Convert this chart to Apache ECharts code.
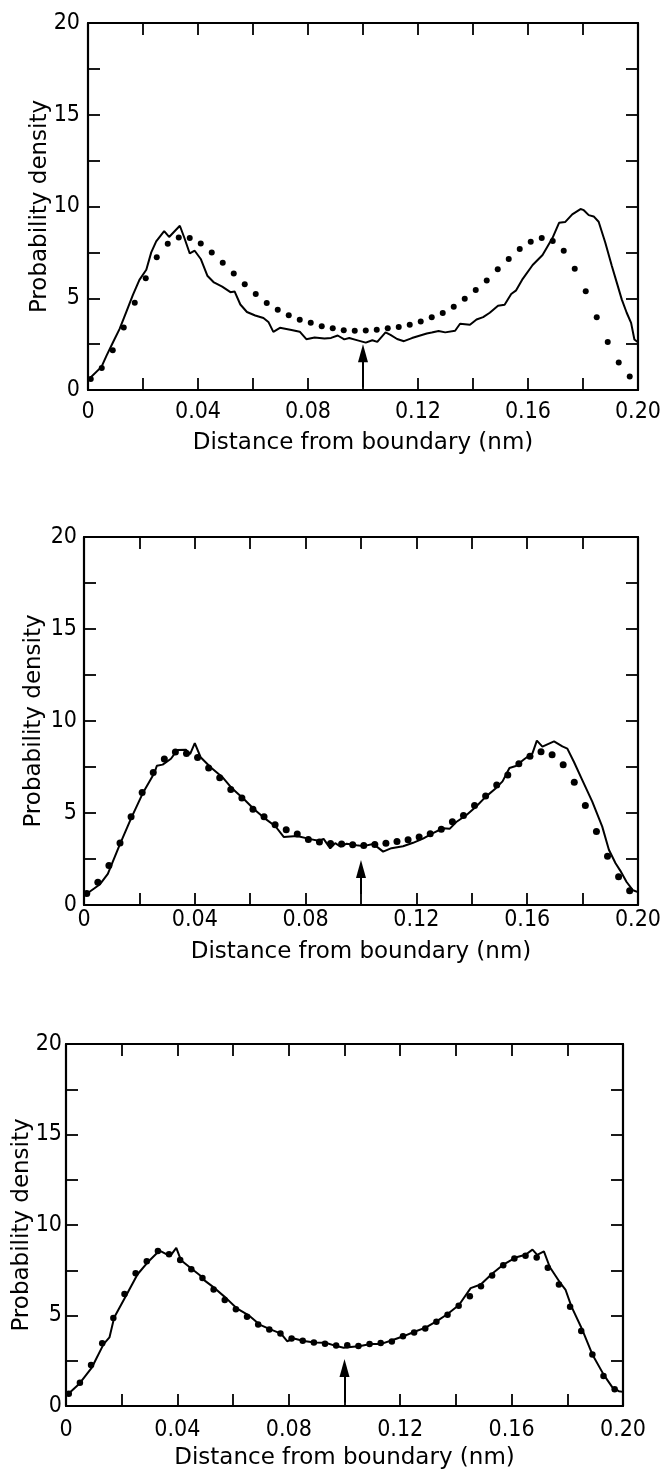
<!DOCTYPE html>
<html>
<head>
<meta charset="utf-8">
<script src="https://cdn.jsdelivr.net/npm/echarts@6/dist/echarts.min.js"></script>
<style>
  html, body { margin: 0; padding: 0; background: #fff; }
  #chart { width: 664px; height: 1471px; }
</style>
</head>
<body>
<div id="chart"></div>
<script>
// x positions of the dotted (reference) curve, same in all three panels
const dotX = [0.001, 0.005, 0.009, 0.013, 0.017, 0.021, 0.025, 0.029, 0.033, 0.037,
  0.041, 0.045, 0.049, 0.053, 0.057, 0.061, 0.065, 0.069, 0.073, 0.077,
  0.081, 0.085, 0.089, 0.093, 0.097, 0.101, 0.105, 0.109, 0.113, 0.117,
  0.121, 0.125, 0.129, 0.133, 0.137, 0.141, 0.145, 0.149, 0.153, 0.157,
  0.161, 0.165, 0.169, 0.173, 0.177, 0.181, 0.185, 0.189, 0.193, 0.197]

const p1Dots = [0.60, 1.20, 2.16, 3.41, 4.75, 6.09, 7.23, 7.97, 8.31, 8.28,
  7.99, 7.49, 6.93, 6.35, 5.76, 5.23, 4.74, 4.37, 4.08, 3.83,
  3.66, 3.48, 3.36, 3.26, 3.23, 3.24, 3.28, 3.36, 3.44, 3.56,
  3.73, 3.96, 4.20, 4.54, 4.97, 5.45, 5.97, 6.58, 7.14, 7.69,
  8.08, 8.29, 8.12, 7.59, 6.61, 5.38, 3.96, 2.61, 1.50, 0.73]

const p2Dots = [0.62, 1.23, 2.14, 3.37, 4.79, 6.11, 7.20, 7.94, 8.31, 8.24,
  8.02, 7.45, 6.91, 6.28, 5.82, 5.21, 4.80, 4.36, 4.09, 3.86,
  3.56, 3.43, 3.34, 3.32, 3.27, 3.24, 3.29, 3.35, 3.45, 3.55,
  3.70, 3.87, 4.12, 4.53, 4.86, 5.41, 5.93, 6.52, 7.07, 7.68,
  8.09, 8.33, 8.16, 7.62, 6.67, 5.41, 4.00, 2.65, 1.53, 0.77]

const p3Dots = [0.68, 1.29, 2.27, 3.46, 4.86, 6.19, 7.33, 8.00, 8.56, 8.38,
  8.06, 7.56, 7.07, 6.43, 5.85, 5.34, 4.93, 4.50, 4.23, 4.00,
  3.73, 3.61, 3.51, 3.44, 3.34, 3.35, 3.32, 3.42, 3.48, 3.57,
  3.85, 4.06, 4.28, 4.66, 5.04, 5.54, 6.06, 6.62, 7.21, 7.77,
  8.15, 8.30, 8.21, 7.64, 6.71, 5.49, 4.15, 2.84, 1.66, 0.93]

// solid (simulated) curves, [distance, density]
const p1Line = [[0.0000, 0.55], [0.0049, 1.26], [0.0067, 1.86], [0.0091, 2.60], [0.0115, 3.33],
  [0.0139, 4.25], [0.0163, 5.17], [0.0187, 6.00], [0.0212, 6.55], [0.0230, 7.50],
  [0.0248, 8.10], [0.0277, 8.66], [0.0295, 8.34], [0.0334, 8.95], [0.0350, 8.31],
  [0.0370, 7.44], [0.0388, 7.59], [0.0410, 7.14], [0.0434, 6.23], [0.0458, 5.86],
  [0.0488, 5.63], [0.0518, 5.33], [0.0533, 5.37], [0.0554, 4.66], [0.0578, 4.25],
  [0.0608, 4.06], [0.0638, 3.92], [0.0656, 3.71], [0.0674, 3.17], [0.0698, 3.39],
  [0.0740, 3.27], [0.0770, 3.18], [0.0794, 2.77], [0.0824, 2.86], [0.0860, 2.81],
  [0.0884, 2.84], [0.0908, 2.97], [0.0932, 2.76], [0.0950, 2.83], [0.0974, 2.73],
  [0.1010, 2.58], [0.1034, 2.71], [0.1052, 2.62], [0.1082, 3.14], [0.1100, 3.00],
  [0.1124, 2.78], [0.1149, 2.66], [0.1178, 2.83], [0.1208, 2.97], [0.1232, 3.08],
  [0.1250, 3.13], [0.1275, 3.21], [0.1299, 3.14], [0.1335, 3.23], [0.1353, 3.61],
  [0.1389, 3.56], [0.1413, 3.84], [0.1437, 3.97], [0.1461, 4.21], [0.1491, 4.59],
  [0.1515, 4.65], [0.1539, 5.23], [0.1557, 5.43], [0.1581, 6.06], [0.1617, 6.81],
  [0.1653, 7.36], [0.1671, 7.82], [0.1689, 8.28], [0.1713, 9.11], [0.1735, 9.15],
  [0.1761, 9.57], [0.1791, 9.86], [0.1803, 9.80], [0.1821, 9.53], [0.1839, 9.46],
  [0.1857, 9.17], [0.1881, 8.04], [0.1905, 6.76], [0.1923, 5.85], [0.1941, 4.94],
  [0.1959, 4.21], [0.1975, 3.66], [0.1987, 2.75], [0.2000, 2.60]]

const p2Line = [[0.0000, 0.50], [0.0058, 1.13], [0.0086, 1.69], [0.0128, 3.24], [0.0170, 4.71],
  [0.0212, 6.07], [0.0254, 7.17], [0.0263, 7.57], [0.0284, 7.63], [0.0314, 7.95],
  [0.0337, 8.43], [0.0368, 8.44], [0.0383, 8.20], [0.0400, 8.80], [0.0421, 8.03],
  [0.0457, 7.49], [0.0499, 6.96], [0.0535, 6.33], [0.0577, 5.76], [0.0613, 5.22],
  [0.0649, 4.75], [0.0691, 4.28], [0.0721, 3.70], [0.0769, 3.75], [0.0817, 3.58],
  [0.0847, 3.49], [0.0865, 3.59], [0.0889, 3.08], [0.0907, 3.36], [0.0925, 3.18],
  [0.0948, 3.33], [0.0984, 3.25], [0.1008, 3.20], [0.1044, 3.32], [0.1080, 2.90],
  [0.1110, 3.09], [0.1152, 3.19], [0.1188, 3.38], [0.1224, 3.61], [0.1260, 3.91],
  [0.1296, 4.17], [0.1320, 4.14], [0.1344, 4.51], [0.1380, 4.88], [0.1415, 5.34],
  [0.1451, 5.89], [0.1487, 6.35], [0.1511, 6.72], [0.1536, 7.45], [0.1559, 7.55],
  [0.1589, 7.92], [0.1619, 8.24], [0.1635, 8.93], [0.1655, 8.61], [0.1697, 8.89],
  [0.1727, 8.62], [0.1745, 8.50], [0.1769, 7.77], [0.1799, 6.79], [0.1835, 5.62],
  [0.1871, 4.26], [0.1895, 3.00], [0.1919, 2.27], [0.1936, 1.87], [0.1959, 1.25],
  [0.1982, 0.80], [0.2000, 0.70]]

const p3Line = [[0.0000, 0.55], [0.0046, 1.20], [0.0092, 2.10], [0.0105, 2.50], [0.0135, 3.42],
  [0.0156, 3.79], [0.0173, 4.89], [0.0215, 6.08], [0.0257, 7.28], [0.0297, 8.00],
  [0.0336, 8.59], [0.0374, 8.28], [0.0396, 8.74], [0.0413, 8.05], [0.0452, 7.57],
  [0.0482, 7.21], [0.0497, 6.94], [0.0534, 6.51], [0.0575, 5.96], [0.0612, 5.41],
  [0.0656, 5.01], [0.0695, 4.50], [0.0734, 4.23], [0.0772, 4.00], [0.0794, 3.58],
  [0.0818, 3.73], [0.0854, 3.59], [0.0892, 3.51], [0.0932, 3.49], [0.0971, 3.31],
  [0.0997, 3.22], [0.1057, 3.32], [0.1093, 3.42], [0.1129, 3.42], [0.1171, 3.63],
  [0.1211, 3.85], [0.1249, 4.09], [0.1291, 4.33], [0.1333, 4.70], [0.1369, 5.07],
  [0.1411, 5.58], [0.1453, 6.51], [0.1489, 6.71], [0.1531, 7.32], [0.1572, 7.83],
  [0.1614, 8.20], [0.1650, 8.36], [0.1675, 8.64], [0.1692, 8.35], [0.1716, 8.54],
  [0.1737, 7.68], [0.1776, 6.77], [0.1794, 6.41], [0.1815, 5.49], [0.1854, 4.21],
  [0.1890, 2.85], [0.1931, 1.72], [0.1962, 1.03], [0.1985, 0.82], [0.2000, 0.78]]

// arrow under the mid-point of each panel: [x, from, to]
const arrows = [[0.1, 0.15, 2.0], [0.1, 0.6, 1.95], [0.1, 0.2, 2.1]]

const xName = 'Distance from boundary (nm)'
const yName = 'Probability density'

const TICK_FONT = `'DejaVu Sans Condensed', 'Liberation Sans Narrow', 'DejaVu Sans', sans-serif`
const NAME_FONT = `'DejaVu Sans', sans-serif`

// pixel boxes of the three panels, and label spacing
const panels = [
  { left: 88, top: 23, width: 555, height: 367, xMargin: 11, yMargin: 8, nameGap: 42, yGap: 36, dot: 6 },
  { left: 84, top: 537, width: 555, height: 368, xMargin: 4, yMargin: 7, nameGap: 36, yGap: 38, dot: 7 },
  { left: 66, top: 1044, width: 557, height: 364, xMargin: 13, yMargin: 4, nameGap: 41, yGap: 32, dot: 6.5 }
]

function xLabel (v) {
  const k = Math.round(v / 0.02)
  if (k % 2 !== 0) return ''
  return k === 0 ? '0' : v.toFixed(2)
}
function yLabel (v) {
  return v % 5 === 0 ? String(v) : ''
}

const axisLine = { show: true, onZero: false, lineStyle: { color: '#000', width: 2.2 } }
const tick = { show: true, inside: true, length: 12, lineStyle: { color: '#000', width: 1.8 } }

const grid = []
const xAxis = []
const yAxis = []
const series = []
const dotSets = [p1Dots, p2Dots, p3Dots]
const lineSets = [p1Line, p2Line, p3Line]

panels.forEach((p, i) => {
  grid.push({ left: p.left, top: p.top, width: p.width, height: p.height, containLabel: false })
  xAxis.push({
    gridIndex: i, type: 'value', min: 0, max: 0.2, interval: 0.02, position: 'bottom',
    axisLine, axisTick: tick, splitLine: { show: false },
    axisLabel: { formatter: xLabel, margin: p.xMargin, color: '#000', fontSize: 23, fontFamily: TICK_FONT, showMaxLabel: true },
    name: xName, nameLocation: 'middle', nameGap: p.nameGap, nameMoveOverlap: false,
    nameTextStyle: { color: '#000', fontSize: 23, fontFamily: NAME_FONT }
  })
  xAxis.push({
    gridIndex: i, type: 'value', min: 0, max: 0.2, interval: 0.02, position: 'top',
    axisLine, axisTick: tick, splitLine: { show: false }, axisLabel: { show: false }
  })
  yAxis.push({
    gridIndex: i, type: 'value', min: 0, max: 20, interval: 2.5, position: 'left',
    axisLine, axisTick: tick, splitLine: { show: false },
    axisLabel: { formatter: yLabel, margin: p.yMargin, color: '#000', fontSize: 23, fontFamily: TICK_FONT },
    name: yName, nameLocation: 'middle', nameGap: p.yGap, nameMoveOverlap: false,
    nameTextStyle: { color: '#000', fontSize: 23, fontFamily: NAME_FONT }
  })
  yAxis.push({
    gridIndex: i, type: 'value', min: 0, max: 20, interval: 2.5, position: 'right',
    axisLine, axisTick: tick, splitLine: { show: false }, axisLabel: { show: false }
  })
  const a = arrows[i]
  series.push({
    type: 'line', xAxisIndex: i * 2, yAxisIndex: i * 2,
    data: lineSets[i], showSymbol: false, smooth: false,
    lineStyle: { color: '#000', width: 2 },
    silent: true,
    markLine: {
      silent: true, animation: false,
      symbol: ['none', 'triangle'], symbolSize: [10, 18],
      label: { show: false },
      lineStyle: { color: '#000', width: 2, type: 'solid' },
      data: [[{ coord: [a[0], a[1]] }, { coord: [a[0], a[2]] }]]
    }
  })
  series.push({
    type: 'scatter', xAxisIndex: i * 2, yAxisIndex: i * 2,
    data: dotX.map((x, k) => [x, dotSets[i][k]]),
    symbol: 'circle', symbolSize: p.dot,
    itemStyle: { color: '#000', opacity: 1 },
    silent: true
  })
})

const chart = echarts.init(document.getElementById('chart'), null, { renderer: 'canvas' })
chart.setOption({
  backgroundColor: '#fff',
  animation: false,
  grid, xAxis, yAxis, series
})
</script>
</body>
</html>
